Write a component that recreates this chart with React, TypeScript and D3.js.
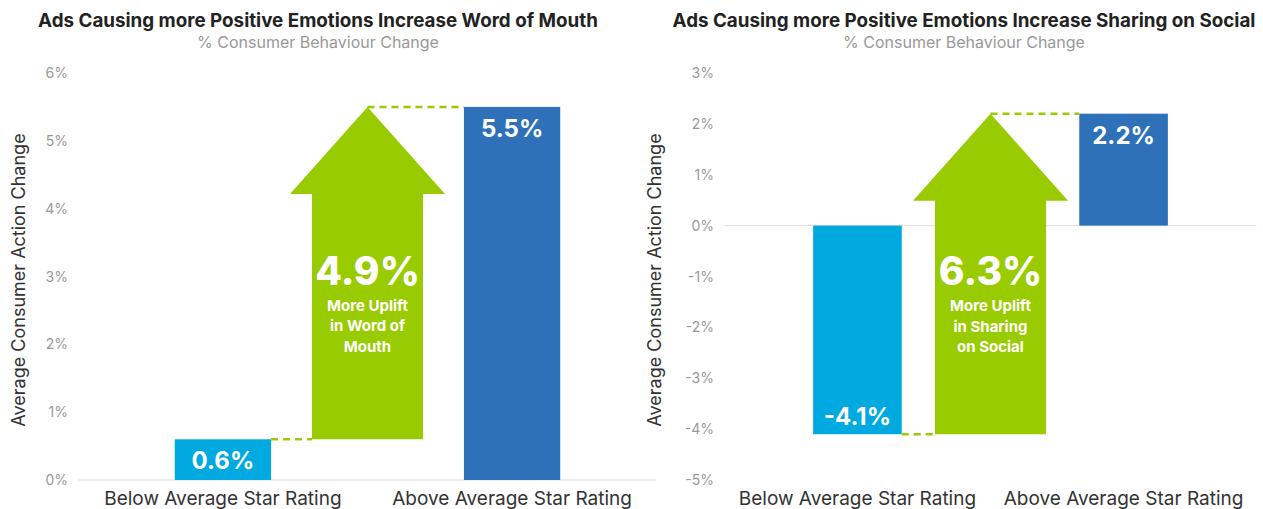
import React from "react";
import * as d3 from "d3";

const categories = ["Below Average Star Rating", "Above Average Star Rating"];
const wordOfMouthValues = [0.6, 5.5];
const sharingValues = [-4.1, 2.2];
const wordOfMouthTicks = [0, 1, 2, 3, 4, 5, 6];
const sharingTicks = [-5, -4, -3, -2, -1, 0, 1, 2, 3];
const wordOfMouthUplift = 4.9;
const sharingUplift = 6.3;
const wordOfMouthUpliftLines = ["More Uplift", "in Word of", "Mouth"];
const sharingUpliftLines = ["More Uplift", "in Sharing", "on Social"];
const titles = [
  "Ads Causing more Positive Emotions Increase Word of Mouth",
  "Ads Causing more Positive Emotions Increase Sharing on Social",
];
const subtitle = "% Consumer Behaviour Change";
const yAxisTitle = "Average Consumer Action Change";

const barColors = ["#00A9E0", "#2E71B8"];
const green = "#99CC00";
const FONT = "Inter, 'Open Sans', sans-serif";

type PanelProps = {
  title: string;
  values: number[];
  ticks: number[];
  uplift: number;
  upliftLines: string[];
  x0: number;
  x1: number;
  titleX: number;
  titleSize: number;
  axisTitleX: number;
  tickX: number;
};

function Panel(p: PanelProps) {
  const domain = d3.extent(p.ticks) as [number, number];
  const y = d3.scaleLinear().domain(domain).range([480, 73]);
  const x = d3
    .scaleBand<string>()
    .domain(categories)
    .range([p.x0, p.x1])
    .paddingInner(0.667)
    .paddingOuter(0.333);
  const bw = x.bandwidth();
  const c0 = (x(categories[0]) as number) + bw / 2;
  const c1 = (x(categories[1]) as number) + bw / 2;
  const ac = (c0 + c1) / 2;
  const lowY = y(p.values[0]);
  const highY = y(p.values[1]);
  const headH = 87;
  const shaftW = 111;
  const headW = 155;
  const headBaseY = highY + headH;
  const arrow = d3.path();
  arrow.moveTo(ac - shaftW / 2, lowY);
  arrow.lineTo(ac - shaftW / 2, headBaseY);
  arrow.lineTo(ac - headW / 2, headBaseY);
  arrow.lineTo(ac, highY);
  arrow.lineTo(ac + headW / 2, headBaseY);
  arrow.lineTo(ac + shaftW / 2, headBaseY);
  arrow.lineTo(ac + shaftW / 2, lowY);
  arrow.closePath();
  const shaftCenter = (headBaseY + lowY) / 2;
  const bigBase = shaftCenter - 32;
  const zeroY = y(0);

  return (
    <g>
      <text x={p.titleX} y={27} textAnchor="middle" fontFamily={FONT} fontWeight={700} fontSize={p.titleSize} fill="#222">
        {p.title}
      </text>
      <text x={p.titleX} y={48} textAnchor="middle" fontFamily={FONT} fontSize={16} fill="#999">
        {subtitle}
      </text>
      <text
        transform={`translate(${p.axisTitleX},280) rotate(-90)`}
        textAnchor="middle"
        fontFamily={FONT}
        fontSize={18}
        fill="#333"
      >
        {yAxisTitle}
      </text>
      {p.ticks.map((t) => (
        <text key={t} x={p.tickX} y={y(t) + 5} textAnchor="end" fontFamily={FONT} fontSize={14} fill="#999">
          {t}%
        </text>
      ))}
      <line x1={p.x0} x2={p.x1} y1={zeroY} y2={zeroY} stroke="#dddddd" strokeWidth={1} />
      {p.values.map((v, i) => {
        const bx = x(categories[i]) as number;
        const top = Math.min(y(v), zeroY);
        const h = Math.abs(y(v) - zeroY);
        const labelY = v >= 0 ? y(v) + 30 : y(v) - 9;
        return (
          <g key={i}>
            <rect x={bx} y={top} width={bw} height={h} fill={barColors[i]} />
            <text x={bx + bw / 2} y={labelY} textAnchor="middle" fontFamily={FONT} fontWeight={700} fontSize={24} fill="#fff">
              {v.toFixed(1)}%
            </text>
          </g>
        );
      })}
      <path d={arrow.toString()} fill={green} />
      <line
        x1={(x(categories[0]) as number) + bw}
        x2={ac - shaftW / 2}
        y1={lowY}
        y2={lowY}
        stroke={green}
        strokeWidth={2.5}
        strokeDasharray="7,5"
      />
      <line x1={ac} x2={x(categories[1]) as number} y1={highY} y2={highY} stroke={green} strokeWidth={2.5} strokeDasharray="7,5" />
      <text x={ac} y={bigBase} textAnchor="middle" fontFamily={FONT} fontWeight={800} fontSize={39} fill="#fff">
        {p.uplift.toFixed(1)}%
      </text>
      {p.upliftLines.map((l, i) => (
        <text key={i} x={ac} y={bigBase + 26 + i * 20.5} textAnchor="middle" fontFamily={FONT} fontWeight={700} fontSize={15} fill="#fff">
          {l}
        </text>
      ))}
      {categories.map((c) => (
        <text
          key={c}
          x={(x(c) as number) + bw / 2}
          y={505}
          textAnchor="middle"
          fontFamily={FONT}
          fontSize={19}
          fill="#333"
        >
          {c}
        </text>
      ))}
    </g>
  );
}

export default function App() {
  return (
    <svg
      width={1263}
      height={509}
      style={{ position: "absolute", left: 0, top: 0, background: "#fff" }}
    >
      <Panel
        title={titles[0]}
        values={wordOfMouthValues}
        ticks={wordOfMouthTicks}
        uplift={wordOfMouthUplift}
        upliftLines={wordOfMouthUpliftLines}
        x0={78.5}
        x1={656.5}
        titleX={318}
        titleSize={18.8}
        axisTitleX={25}
        tickX={68}
      />
      <Panel
        title={titles[1]}
        values={sharingValues}
        ticks={sharingTicks}
        uplift={sharingUplift}
        upliftLines={sharingUpliftLines}
        x0={724.5}
        x1={1256.5}
        titleX={964}
        titleSize={18.8}
        axisTitleX={661}
        tickX={714}
      />
    </svg>
  );
}
